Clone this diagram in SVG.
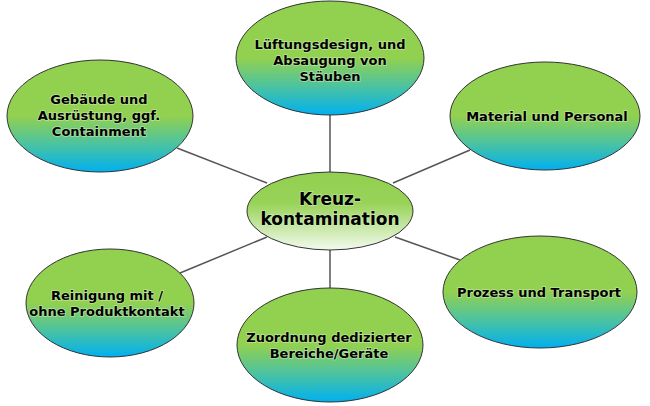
<svg xmlns="http://www.w3.org/2000/svg" width="650" height="406" viewBox="0 0 650 406">
<defs>
<linearGradient id="gOuter" x1="0" y1="0" x2="0" y2="1">
<stop offset="0" stop-color="#92D050"/>
<stop offset="0.5" stop-color="#92D050"/>
<stop offset="0.75" stop-color="#4CC3A0"/>
<stop offset="1" stop-color="#00B0F0"/>
</linearGradient>
<linearGradient id="gCenter" x1="0" y1="0" x2="0" y2="1">
<stop offset="0" stop-color="#92D050"/>
<stop offset="0.4" stop-color="#98D358"/>
<stop offset="1" stop-color="#F3FAEE"/>
</linearGradient>
<style>
.outer{fill:url(#gOuter);stroke:#333;stroke-width:1}
.center{fill:url(#gCenter);stroke:#333;stroke-width:1}
.conn{stroke:#555;stroke-width:1.5;fill:none}
text{font-family:"DejaVu Sans","Liberation Sans",sans-serif;font-weight:bold;fill:#000;text-anchor:middle;paint-order:stroke;stroke:#d8f0c0;stroke-width:1.6;stroke-opacity:0.6}
.t{font-size:13px}
.tc{font-size:17px}
</style>
</defs>
<rect width="650" height="406" fill="#fff"/>
<g id="connectors">
<line class="conn" x1="330" y1="115" x2="330" y2="174"/>
<line class="conn" x1="177" y1="148" x2="267" y2="183"/>
<line class="conn" x1="470" y1="150" x2="393" y2="183"/>
<line class="conn" x1="267" y1="237" x2="180" y2="273"/>
<line class="conn" x1="395" y1="237" x2="460" y2="260"/>
<line class="conn" x1="330" y1="250" x2="330" y2="288"/>
</g>
<g id="n-top">
<ellipse class="outer" cx="330" cy="58" rx="94" ry="57"/>
<text class="t" x="330" y="49">Lüftungsdesign, und</text>
<text class="t" x="330" y="65">Absaugung von</text>
<text class="t" x="330" y="81">Stäuben</text>
</g>
<g id="n-lefttop">
<ellipse class="outer" cx="100" cy="116" rx="93" ry="56"/>
<text class="t" x="99" y="104">Gebäude und</text>
<text class="t" x="99" y="120">Ausrüstung, ggf.</text>
<text class="t" x="99" y="136">Containment</text>
</g>
<g id="n-righttop">
<ellipse class="outer" cx="545" cy="116" rx="95" ry="54"/>
<text class="t" x="547" y="121">Material und Personal</text>
</g>
<g id="n-rightbottom">
<ellipse class="outer" cx="540" cy="292" rx="97" ry="56"/>
<text class="t" x="539" y="297">Prozess und Transport</text>
</g>
<g id="n-bottom">
<ellipse class="outer" cx="330" cy="345" rx="93" ry="57"/>
<text class="t" x="329" y="342">Zuordnung dedizierter</text>
<text class="t" x="329" y="358">Bereiche/Geräte</text>
</g>
<g id="n-leftbottom">
<ellipse class="outer" cx="110" cy="303" rx="84" ry="54"/>
<text class="t" x="107" y="300">Reinigung mit /</text>
<text class="t" x="107" y="316">ohne Produktkontakt</text>
</g>
<g id="n-center">
<ellipse class="center" cx="330" cy="211" rx="83" ry="39"/>
<text class="tc" x="330" y="205">Kreuz-</text>
<text class="tc" x="330" y="225">kontamination</text>
</g>
</svg>
